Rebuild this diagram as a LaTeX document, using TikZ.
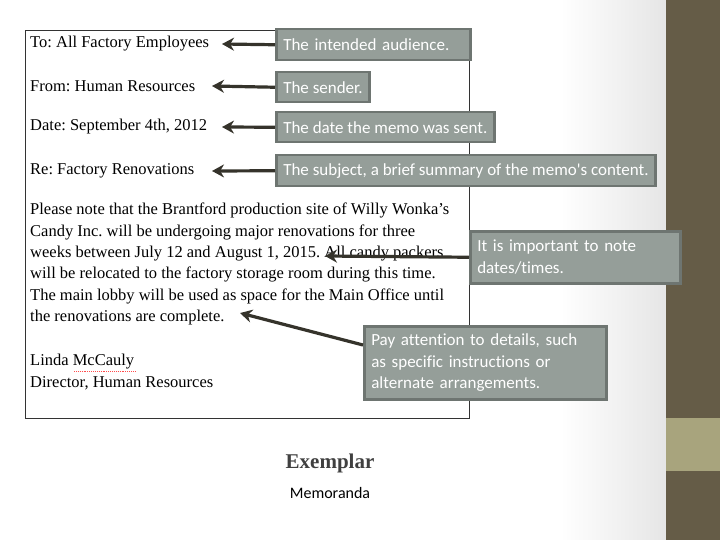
\documentclass[tikz,border=0pt]{standalone}
\usepackage{fontspec}
\usetikzlibrary{calc,arrows.meta}
\setmainfont{Liberation Serif}
\newfontfamily\calfont[Ligatures=NoCommon]{Carlito}
\definecolor{band}{HTML}{655C47}
\definecolor{olive}{HTML}{A8A47D}
\definecolor{boxfill}{HTML}{959E99}
\definecolor{boxline}{HTML}{6E7571}
\definecolor{arr}{HTML}{35332B}
\begin{document}
\frenchspacing
\begin{tikzpicture}[x=1pt,y=-1pt,
  memo/.style={anchor=west,inner sep=0pt,font=\fontsize{16.5}{21.3}\selectfont},
  callout/.style={draw=boxline,line width=2.5pt,fill=boxfill,text=white,anchor=north west,inner xsep=7pt,inner ysep=0pt,align=left,font=\calfont\fontsize{17}{21.7}\selectfont},
  pointer/.style={draw=arr,line width=3.2pt,-{Stealth[length=12pt,width=13pt]}}]
\useasboundingbox (0,0) rectangle (720,540);
\fill[white] (0,0) rectangle (720,540);
\shade[left color=white,right color=black!10] (560,0) rectangle (666,540);
\fill[band] (666,0) rectangle (720,540);
\fill[olive] (666,418) rectangle (720,471);
\draw[black!80,line width=0.8pt] (25,30) rectangle (469,418);
\node[memo] (to) at (30,44) {To: All Factory Employees};
\node[memo] (from) at (30,86) {From: Human Resources};
\node[memo] (date) at (30,127) {Date: September 4th, 2012};
\node[memo] (re) at (30,171) {Re: Factory Renovations};
\node[memo,anchor=north west,align=left] (body) at (30,203) {Please note that the Brantford production site of Willy Wonka's\\Candy Inc. will be undergoing major renovations for three\\weeks between July 12 and August 1, 2015. All candy packers\\will be relocated to the factory storage room during this time.\\The main lobby will be used as space for the Main Office until\\the renovations are complete.};
\node[memo] (linda) at (30,362) {Linda McCauly};
\draw[red!70,densely dotted,line width=0.9pt] (74,371) -- (136,371);
\node[memo] (dir) at (30,383) {Director, Human Resources};
\node[callout,minimum height=31pt,text width=180pt] (c1) at (275,28) {The intended audience.};
\node[callout,minimum height=30pt] (c2) at (275,71) {The sender.};
\node[callout,minimum height=30pt] (c3) at (275,111) {The date the memo was sent.};
\node[callout,minimum height=31pt] (c4) at (275,154) {The subject, a brief summary of the memo's content.};
\node[callout,minimum height=52pt,text width=196pt] (c5) at (469,230) {It is important to note\\dates/times.};
\node[callout,minimum height=73pt,text width=228pt] (c6) at (363,325) {Pay attention to details, such\\as specific instructions or\\alternate arrangements.};
\coordinate (e1) at (222,44); \coordinate (e2) at (212,86);
\coordinate (e3) at (222,127); \coordinate (e4) at (212,171);
\coordinate (e5) at (325,256); \coordinate (e6) at (240,313);
\draw[pointer] (c1.west) -- (e1);
\draw[pointer] (c2.west) -- (e2);
\draw[pointer] (c3.west) -- (e3);
\draw[pointer] (c4.west) -- (e4);
\draw[pointer] (c5.west) -- (e5);
\draw[pointer] ($(c6.north west)+(0,20)$) -- (e6);
\node[font=\fontsize{21}{24}\selectfont\bfseries,text=black!75] (ex) at (330,463) {Exemplar};
\node[font=\calfont\fontsize{16}{18}\selectfont] (mem) at (330,493) {Memoranda};
\end{tikzpicture}
\end{document}
